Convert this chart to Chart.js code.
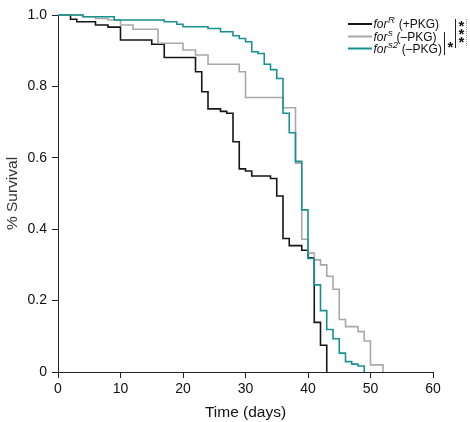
<!DOCTYPE html>
<html><head><meta charset="utf-8">
<script src="https://cdn.jsdelivr.net/npm/chart.js@4/dist/chart.umd.min.js"></script>
<style>html,body{margin:0;padding:0;background:#fff}#wrap{width:470px;height:422px}</style>
</head><body><div id="wrap"><canvas id="c" width="470" height="422"></canvas></div>
<script>
// forR (+PKG)
const timeR = [0,2,3,6,8,10,15,17,22,23,24,26,27,28,29,30,31,34,35,36,37,39,40,41,42,43];
const survR = [1,0.988,0.981,0.972,0.966,0.93,0.918,0.881,0.841,0.785,0.737,0.730,0.725,0.645,0.569,0.563,0.549,0.542,0.493,0.374,0.354,0.341,0.32,0.139,0.075,0];
// fors (-PKG)
const timeS = [0,4,6,8,10,12,16,20,22,24,29,30,36,38,39,40,41,42,43,44,45,46,48,49,50,52];
const survS = [1,0.995,0.99,0.986,0.972,0.96,0.921,0.902,0.888,0.862,0.841,0.769,0.74,0.585,0.372,0.333,0.314,0.30,0.268,0.232,0.147,0.127,0.113,0.087,0.02,0];
// fors2 (-PKG)
const timeS2 = [0,4,9,17,19,20,24,26,28,29,30,31,32,33,34,35,36,37,38,39,40,41,42,43,44,45,46,47,48,49];
const survS2 = [1,0.995,0.986,0.981,0.974,0.967,0.962,0.953,0.942,0.934,0.925,0.897,0.892,0.862,0.847,0.822,0.725,0.67,0.59,0.454,0.318,0.244,0.172,0.119,0.093,0.053,0.029,0.022,0.017,0];

const xTicks = [0,10,20,30,40,50,60];
const yTicks = [0,0.2,0.4,0.6,0.8,1.0];
const seriesNames = [['for','R',' (+PKG)'],['for','s',' (\u2013PKG)'],['for','s2',' (\u2013PKG)']];
const seriesColors = ['#161616','#a8a8a8','#1a9090'];

const FONT = '"Liberation Sans", Arial, Helvetica, sans-serif';
const toPts = (t, s) => t.map((v, i) => ({x: v, y: s[i]}));

const legendPlugin = {
  id: 'customLegend',
  afterDraw(chart) {
    const ctx = chart.ctx;
    ctx.save();
    const rows = [24, 36.5, 48.5];
    const x0 = 348, x1 = 372;
    rows.forEach((y, i) => {
      ctx.strokeStyle = seriesColors[i];
      ctx.lineWidth = 2;
      ctx.beginPath(); ctx.moveTo(x0, y); ctx.lineTo(x1, y); ctx.stroke();
      let x = 373.5;
      ctx.fillStyle = '#111';
      ctx.textBaseline = 'middle';
      ctx.textAlign = 'left';
      ctx.font = 'italic 12px ' + FONT;
      ctx.fillText(seriesNames[i][0], x, y + 1);
      x += ctx.measureText(seriesNames[i][0]).width;
      ctx.font = 'italic 9.5px ' + FONT;
      ctx.fillText(seriesNames[i][1], x + 0.5, y - 3.5);
      x += ctx.measureText(seriesNames[i][1]).width + 1;
      ctx.font = '12px ' + FONT;
      ctx.fillText(seriesNames[i][2], x, y + 1);
    });
    // significance brackets
    ctx.strokeStyle = '#222';
    ctx.lineWidth = 1;
    ctx.beginPath(); ctx.moveTo(444.5, 32); ctx.lineTo(444.5, 55); ctx.stroke();
    ctx.beginPath(); ctx.moveTo(455.5, 19); ctx.lineTo(455.5, 48); ctx.stroke();
    ctx.strokeStyle = '#999';
    ctx.setLineDash([1,1]);
    ctx.beginPath(); ctx.moveTo(466.5, 19); ctx.lineTo(466.5, 47); ctx.stroke();
    ctx.setLineDash([]);
    ctx.fillStyle = '#111';
    ctx.font = 'bold 15px ' + FONT;
    ctx.textAlign = 'center';
    ctx.fillText('*', 450.5, 48);
    ctx.fillText('*', 461.5, 27);
    ctx.fillText('*', 461.5, 35);
    ctx.fillText('*', 461.5, 43);
    ctx.restore();
  }
};

const commonLine = {pointRadius: 0, borderWidth: 1.6, stepped: 'before', fill: false, clip: 4, tension: 0};

new Chart(document.getElementById('c'), {
  type: 'line',
  data: {
    datasets: [
      Object.assign({label: 'forS2', data: toPts(timeS2, survS2), borderColor: seriesColors[2]}, commonLine),
      Object.assign({label: 'forS', data: toPts(timeS, survS), borderColor: seriesColors[1]}, commonLine),
      Object.assign({label: 'forR', data: toPts(timeR, survR), borderColor: seriesColors[0]}, commonLine)
    ]
  },
  options: {
    responsive: false,
    animation: false,
    devicePixelRatio: 1,
    layout: {padding: {left: 0, right: 37, top: 15, bottom: 0}},
    plugins: {legend: {display: false}, tooltip: {enabled: false}},
    scales: {
      x: {
        type: 'linear', min: 0, max: 60,
        afterBuildTicks: s => { s.ticks = xTicks.map(v => ({value: v})); },
        afterFit: s => { s.height = 50; },
        ticks: {color: '#111', font: {size: 14, family: FONT}, padding: 3, maxRotation: 0,
                callback: v => String(v)},
        grid: {drawOnChartArea: false, drawTicks: true, tickLength: 6, color: '#222', tickColor: '#222'},
        border: {display: true, color: '#222', width: 1},
        title: {display: true, text: 'Time (days)', color: '#111', font: {size: 15.5, family: FONT}, padding: {top: 2, bottom: 0}}
      },
      y: {
        type: 'linear', min: 0, max: 1,
        afterBuildTicks: s => { s.ticks = yTicks.map(v => ({value: v})); },
        afterFit: s => { s.width = 58; },
        ticks: {color: '#111', font: {size: 14, family: FONT}, padding: 5,
                callback: v => v === 0 ? '0' : v.toFixed(1)},
        grid: {drawOnChartArea: false, drawTicks: true, tickLength: 6, color: '#222', tickColor: '#222'},
        border: {display: true, color: '#222', width: 1},
        title: {display: true, text: '% Survival', color: '#333', font: {size: 15.5, family: FONT}, padding: {top: 3, bottom: 0}}
      }
    }
  },
  plugins: [legendPlugin]
});
</script>
</body></html>
